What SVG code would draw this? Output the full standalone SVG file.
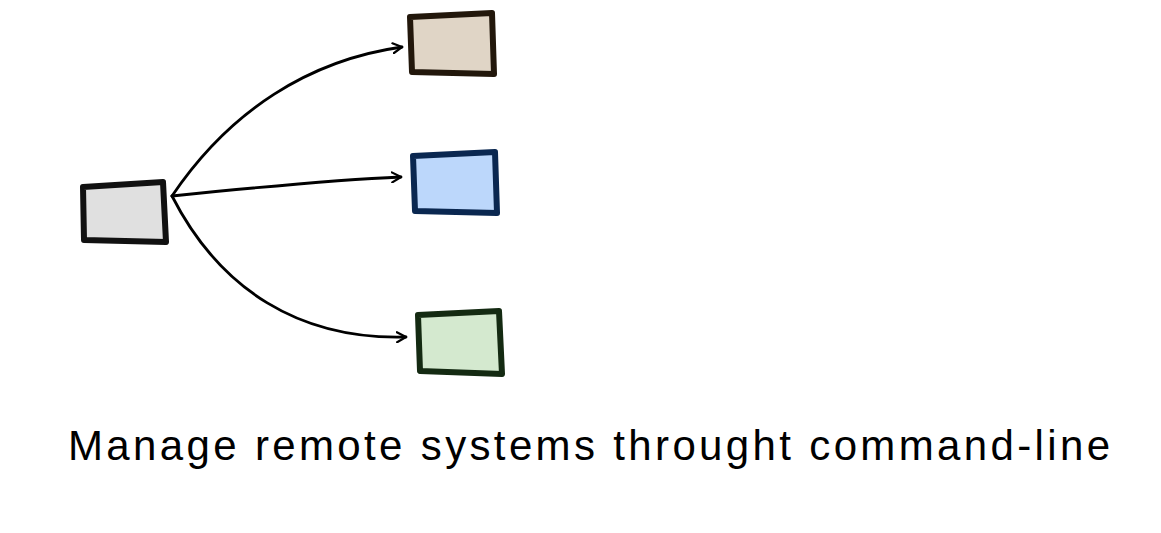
<svg xmlns="http://www.w3.org/2000/svg" width="1161" height="533" viewBox="0 0 1161 533">
<defs>
<marker id="ah" viewBox="0 0 12 12" refX="10" refY="6" markerWidth="12" markerHeight="12" markerUnits="userSpaceOnUse" orient="auto">
<path d="M1 1 L10 6 L1 11" fill="none" stroke="#000" stroke-width="2.2" stroke-linecap="round" stroke-linejoin="round"/>
</marker>
<style>
.box{stroke-width:6;stroke-linejoin:round;stroke-linecap:round}
.edge{fill:none;stroke:#000;stroke-width:2.8;stroke-linecap:round}
.lbl{font-family:"Comic Sans MS","Liberation Sans",sans-serif;font-size:42px;fill:#000}
</style>
</defs>
<rect width="1161" height="533" fill="#fff"/>
<g id="source">
<path class="box" d="M83 187 L163 182 L166 242 L84 240 Z" fill="#e0e0e0" stroke="#111"/>
</g>
<g id="target-tan">
<path class="box" d="M410 17 L492 13 L494 74 L412 72 Z" fill="#e0d5c6" stroke="#22170b"/>
</g>
<g id="target-blue">
<path class="box" d="M413 156 L495 152 L497 213 L415 211 Z" fill="#bcd7fb" stroke="#0a2750"/>
</g>
<g id="target-green">
<path class="box" d="M418 315 L499 311 L502 374 L420 371 Z" fill="#d4e9cf" stroke="#142a12"/>
</g>
<g id="connectors">
<path class="edge" d="M172 196 C230 110 310 60 402 47" marker-end="url(#ah)"/>
<path class="edge" d="M172 196 C250 188 330 180 401 177" marker-end="url(#ah)"/>
<path class="edge" d="M172 196 C220 290 300 340 406 337" marker-end="url(#ah)"/>
</g>
<text class="lbl" x="68" y="460" textLength="1042" lengthAdjust="spacing">Manage remote systems throught command-line</text>
</svg>
